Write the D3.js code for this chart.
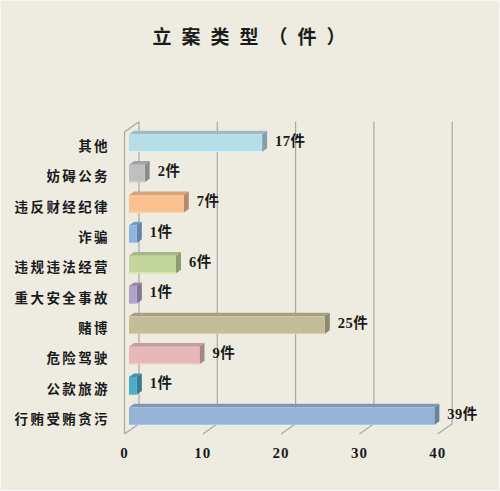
<!DOCTYPE html>
<html><head><meta charset="utf-8">
<script src="https://cdn.jsdelivr.net/npm/d3@7"></script>
<style>
html,body{margin:0;padding:0;background:#EEECE1;}
svg{display:block;}
</style></head>
<body>
<svg id="chart" width="500" height="491"></svg>
<script>
const title = "立案类型（件）";
const categories = ["其他","妨碍公务","违反财经纪律","诈骗","违规违法经营","重大安全事故","赌博","危险驾驶","公款旅游","行贿受贿贪污"];
const values = [17,2,7,1,6,1,25,9,1,39];
const unit = "件";
const barColors = ["#B7DEE8","#BFBFBF","#FAC090","#8EB4E3","#C3D69B","#B3A2C7","#C4BD97","#E6B9B8","#4BACC6","#95B3D7"];
const tickValues = [0,10,20,30,40];

const svg = d3.select("#chart");
svg.append("rect").attr("width",500).attr("height",491).attr("fill","#EEECE1");
svg.append("rect").attr("x",0.5).attr("y",0.5).attr("width",499).attr("height",490)
  .attr("fill","none").attr("stroke","#F7F6F0").attr("stroke-width",1);

// layout
const DX = 14.5, DY = -10.2;          // full depth of the 3D box
const frontTop = 132, frontBottom = 434;
const x = d3.scaleLinear().domain([0,40]).range([124.5,437.7]);
const barOffX = 4.5;                  // bar front plane offset from front plane
const barDepth = {dx:5, dy:-3.6};
const y = d3.scaleBand().domain(categories).range([128,431.3]).paddingInner(0.42).paddingOuter(0.21);

const grid = "#A6A6A6";
// back wall gridlines
svg.append("g").selectAll("line").data(tickValues).join("line")
  .attr("x1",d=>x(d)+DX).attr("x2",d=>x(d)+DX)
  .attr("y1",frontTop+DY).attr("y2",frontBottom+DY)
  .attr("stroke",grid).attr("stroke-width",1.2);
// floor diagonals
svg.append("g").selectAll("line").data(tickValues).join("line")
  .attr("x1",d=>x(d)).attr("x2",d=>x(d)+DX)
  .attr("y1",frontBottom).attr("y2",frontBottom+DY)
  .attr("stroke",grid).attr("stroke-width",1.2);
// left wall front edge and top diagonal
svg.append("line").attr("x1",x(0)).attr("x2",x(0)).attr("y1",frontTop).attr("y2",frontBottom)
  .attr("stroke",grid).attr("stroke-width",1.2);
svg.append("line").attr("x1",x(0)).attr("x2",x(0)+DX).attr("y1",frontTop).attr("y2",frontTop+DY)
  .attr("stroke",grid).attr("stroke-width",1.2);

// bars
const bars = svg.append("g").selectAll("g").data(categories).join("g");
bars.each(function(c,i){
  const g = d3.select(this);
  const col = d3.color(barColors[i]);
  const x0 = x(0)+barOffX, x1 = x(values[i])+barOffX;
  const yt = y(c), h = y.bandwidth();
  const yb = yt + h;
  const dx = barDepth.dx, dy = barDepth.dy;
  // top face
  g.append("path").attr("d",`M${x0},${yt}L${x0+dx},${yt+dy}L${x1+dx},${yt+dy}L${x1},${yt}Z`)
    .attr("fill",col.darker(0.45));
  // side face
  g.append("path").attr("d",`M${x1},${yt}L${x1+dx},${yt+dy}L${x1+dx},${yb+dy}L${x1},${yb}Z`)
    .attr("fill",col.darker(0.9));
  // front face
  g.append("rect").attr("x",x0).attr("y",yt).attr("width",x1-x0).attr("height",h)
    .attr("fill",col.toString());
  g.append("line").attr("x1",x0).attr("x2",x1).attr("y1",yb-0.5).attr("y2",yb-0.5)
    .attr("stroke",col.brighter(0.3)).attr("stroke-width",1);
  // value label
  g.append("text").attr("x",x1+dx+8).attr("y",yt+h/2-2.5).attr("dy","0.35em")
    .attr("font-family","'Liberation Serif','Noto Sans CJK SC',serif").attr("font-weight","bold")
    .attr("font-size",14.5).attr("fill","#1a1a1a").attr("letter-spacing","0.5px")
    .text(values[i]+unit);
});

// category labels
svg.append("g").selectAll("text").data(categories).join("text")
  .attr("x",110).attr("y",d=>y(d)+y.bandwidth()/2+3).attr("dy","0.36em")
  .attr("text-anchor","end")
  .attr("font-family","'Noto Sans CJK SC',sans-serif").attr("font-weight","bold")
  .attr("font-size",13.5).attr("letter-spacing","2.4px").attr("fill","#1a1a1a")
  .text(d=>d);

// x tick labels
svg.append("g").selectAll("text").data(tickValues).join("text")
  .attr("x",d=>x(d)).attr("y",453).attr("dy","0.36em").attr("text-anchor","middle")
  .attr("font-family","'Liberation Serif',serif").attr("font-weight","bold")
  .attr("font-size",15).attr("letter-spacing","1px").attr("fill","#1a1a1a")
  .text(d=>d);

// title
svg.append("text").attr("x",254).attr("y",37).attr("dy","0.36em").attr("text-anchor","middle")
  .attr("font-family","'Noto Sans CJK SC',sans-serif").attr("font-weight","bold")
  .attr("font-size",19).attr("letter-spacing","10px").attr("fill","#1a1a1a")
  .text(title);
</script>
</body></html>
